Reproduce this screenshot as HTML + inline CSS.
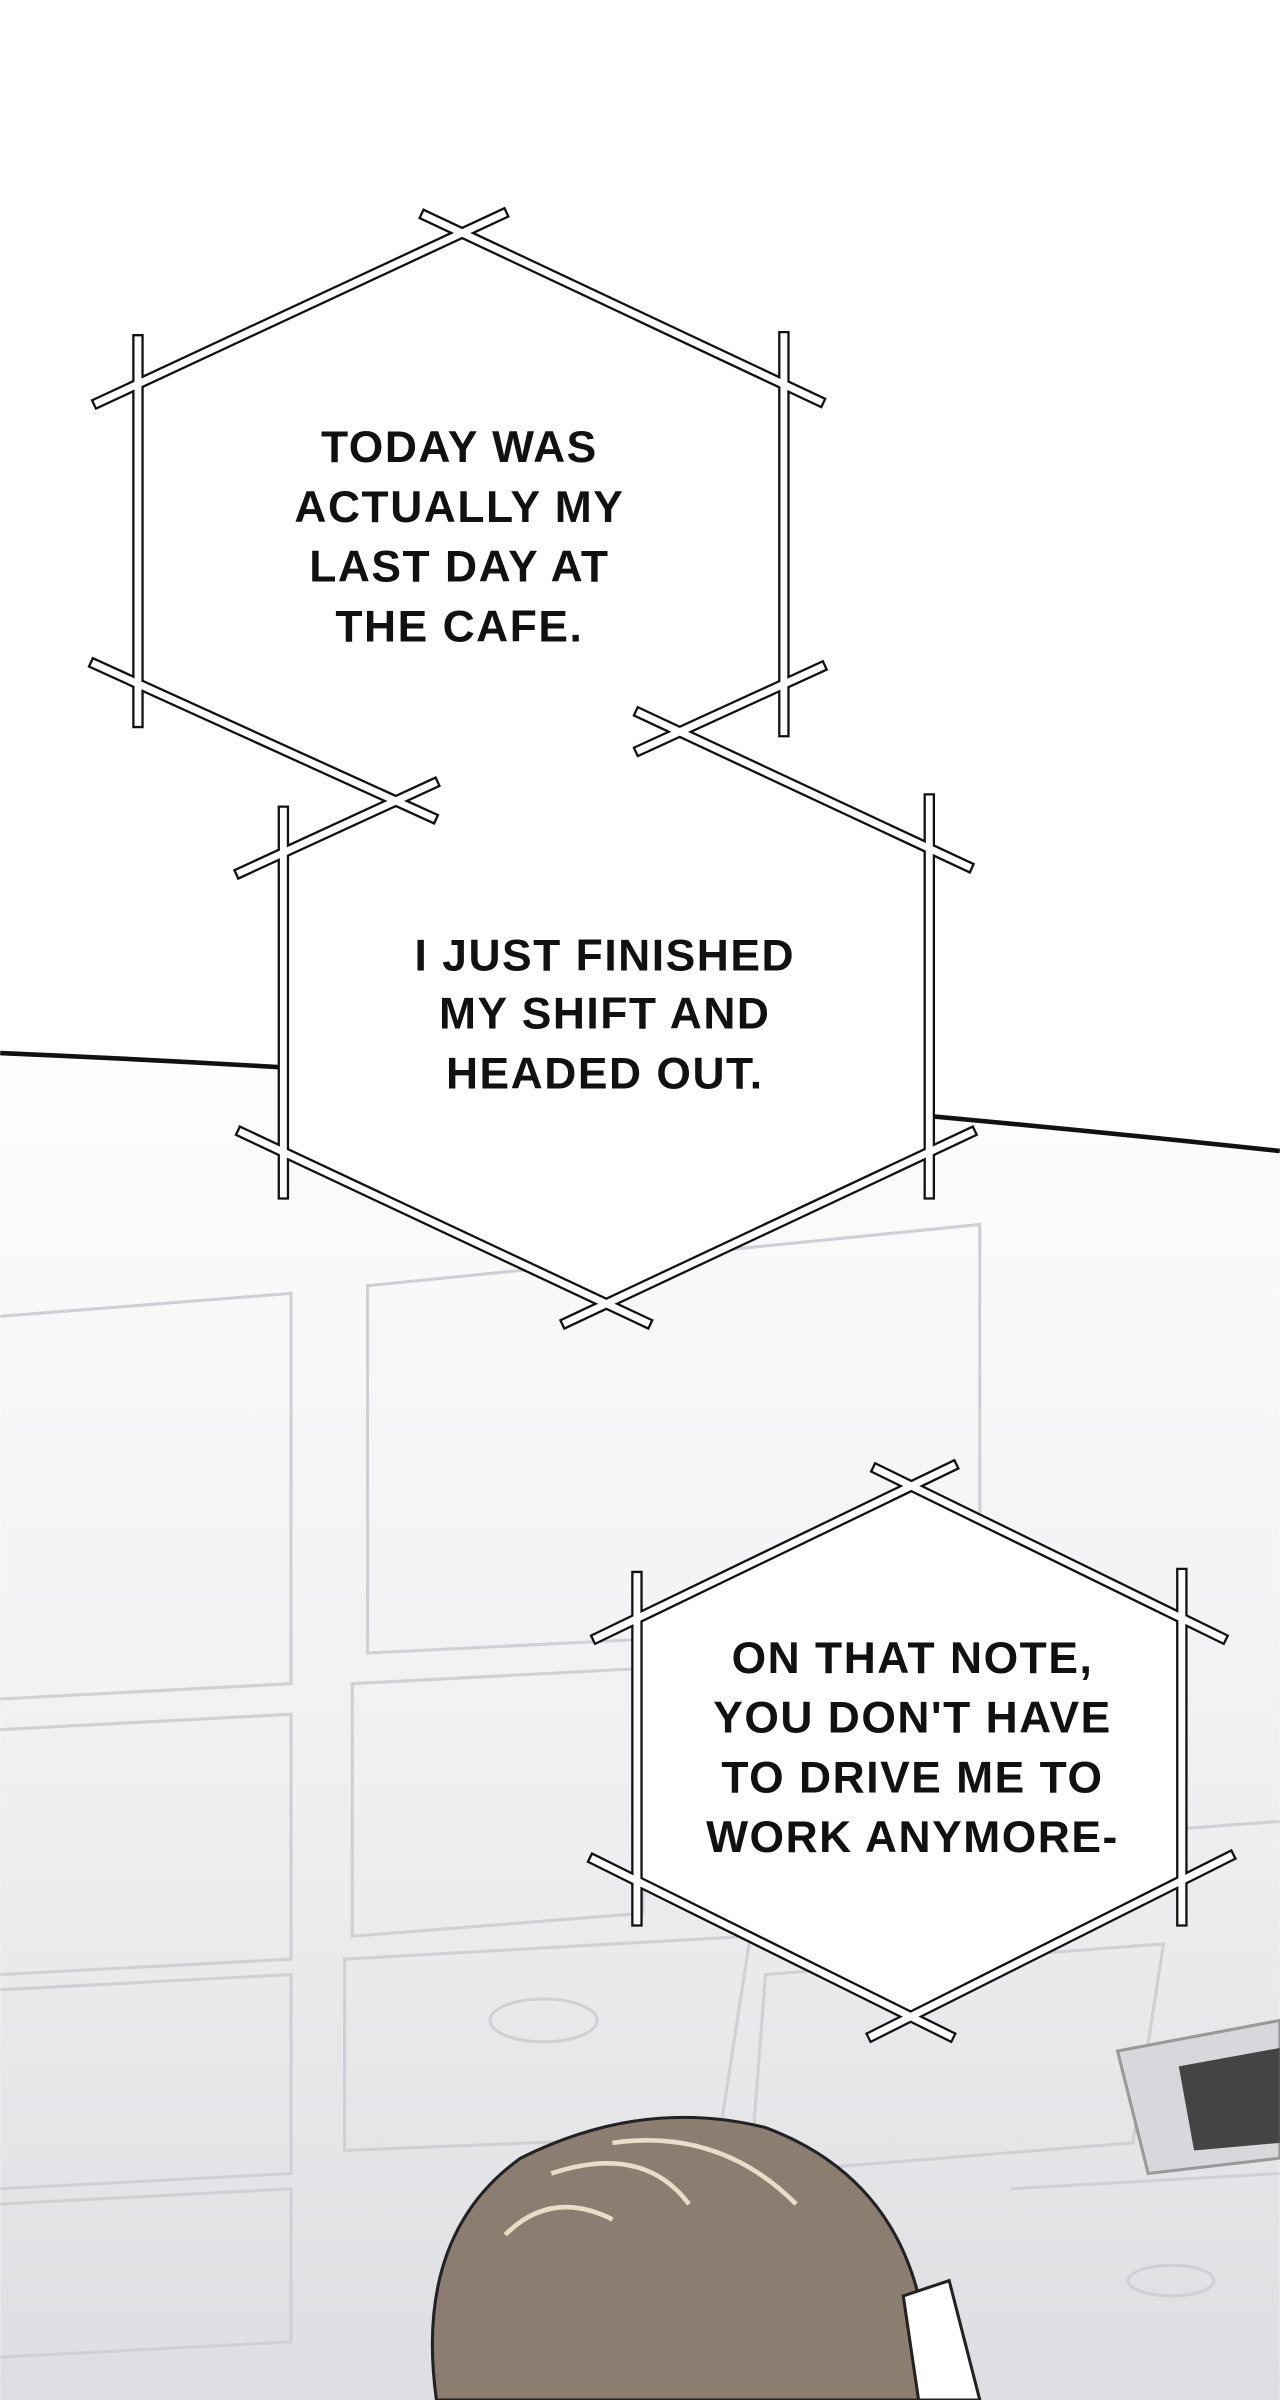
<!DOCTYPE html>
<html><head><meta charset="utf-8"><style>
html,body{margin:0;padding:0;background:#fff;}
svg{display:block;}
text{font-family:"Liberation Sans",sans-serif;font-weight:bold;font-size:29px;fill:#111;text-anchor:middle;letter-spacing:1px;}
</style></head><body>
<svg width="1280" height="2400" viewBox="0 0 836 1568" xmlns="http://www.w3.org/2000/svg">
<defs>
<linearGradient id="bg" x1="0" y1="0" x2="0" y2="1">
<stop offset="0" stop-color="#fdfdfd"/><stop offset="0.5" stop-color="#f1f1f3"/><stop offset="1" stop-color="#dedee2"/>
</linearGradient>
<g id="bars">
<line x1="64" y1="263" x2="328" y2="140"/>
<line x1="278" y1="141" x2="535" y2="262"/>
<line x1="90" y1="222" x2="90" y2="472"/>
<line x1="512" y1="220" x2="512" y2="478"/>
<line x1="62" y1="434" x2="282" y2="534"/>
<line x1="536" y1="436" x2="418" y2="490"/>
<line x1="157" y1="570" x2="283" y2="512"/>
<line x1="418" y1="466" x2="632" y2="566"/>
<line x1="185" y1="530" x2="185" y2="780"/>
<line x1="607" y1="522" x2="607" y2="780"/>
<line x1="158" y1="740" x2="422" y2="864"/>
<line x1="370" y1="864" x2="634" y2="740"/>
<line x1="390" y1="1070" x2="622" y2="958"/>
<line x1="573" y1="960" x2="798" y2="1070"/>
<line x1="416" y1="1030" x2="416" y2="1255"/>
<line x1="772" y1="1028" x2="772" y2="1255"/>
<line x1="388" y1="1215" x2="620" y2="1330"/>
<line x1="570" y1="1330" x2="803" y2="1213"/>
</g>
</defs>
<rect width="836" height="1568" fill="#fff"/>
<path d="M0,688 Q400,705 836,752 L836,1568 L0,1568 Z" fill="url(#bg)"/>
<path d="M0,688 Q400,705 836,752" fill="none" stroke="#111" stroke-width="3"/>
<g fill="none" stroke="#cfcfd4" stroke-width="2">
<path d="M0,860 L190,845 L190,1100 L0,1110"/>
<path d="M240,840 L640,800 L640,1060 L240,1080 Z"/>
<path d="M0,1130 L190,1120 L190,1280 L0,1290"/>
<path d="M230,1100 L420,1090 L420,1250 L230,1265 Z"/>
<path d="M0,1300 L190,1290 L190,1420 L0,1430"/>
<path d="M225,1280 L490,1265 L470,1395 L225,1405 Z"/>
<path d="M0,1440 L190,1430 L190,1530 L0,1540"/>
<path d="M500,1290 L760,1270 L740,1400 L490,1420 Z"/>
<ellipse cx="355" cy="1320" rx="35" ry="14"/>
<ellipse cx="765" cy="1490" rx="28" ry="10"/>
<path d="M700,1200 L836,1190 M660,1430 L836,1420"/>
</g>
<path d="M730,1340 L836,1320 L836,1410 L750,1420 Z" fill="#d8d8dc" stroke="#999" stroke-width="2"/>
<path d="M770,1350 L836,1338 L836,1400 L780,1405 Z" fill="#444"/>
<path d="M285,1568 Q270,1460 340,1410 Q420,1370 500,1390 Q580,1420 600,1500 L610,1568 Z" fill="#8b7e70" stroke="#222" stroke-width="2"/>
<path d="M360,1420 Q420,1400 450,1440 M400,1400 Q470,1390 520,1440 M330,1460 Q360,1430 400,1450" fill="none" stroke="#e8ddc8" stroke-width="3"/>
<path d="M590,1500 L620,1490 L640,1568 L600,1568 Z" fill="#fff" stroke="#222" stroke-width="2"/>
<path d="M302,152 L512,250 L512,450 L302,548 L90,450 L90,250 Z" fill="#fff"/>
<path d="M396,478 L607,558 L607,748 L396,852 L185,748 L185,560 Z" fill="#fff"/>
<path d="M597,967 L772,1054 L772,1228 L597,1318 L416,1228 L416,1054 Z" fill="#fff"/>
<use href="#bars" stroke="#111" stroke-width="7.5" stroke-linecap="square"/>
<use href="#bars" stroke="#fff" stroke-width="4.5" stroke-linecap="square"/>
<text x="300" y="302">TODAY WAS</text>
<text x="300" y="341">ACTUALLY MY</text>
<text x="300" y="380">LAST DAY AT</text>
<text x="300" y="419">THE CAFE.</text>
<text x="395" y="634">I JUST FINISHED</text>
<text x="395" y="672">MY SHIFT AND</text>
<text x="395" y="711">HEADED OUT.</text>
<text x="596" y="1093">ON THAT NOTE,</text>
<text x="596" y="1132">YOU DON'T HAVE</text>
<text x="596" y="1171">TO DRIVE ME TO</text>
<text x="596" y="1210">WORK ANYMORE-</text>
</svg>
</body></html>
